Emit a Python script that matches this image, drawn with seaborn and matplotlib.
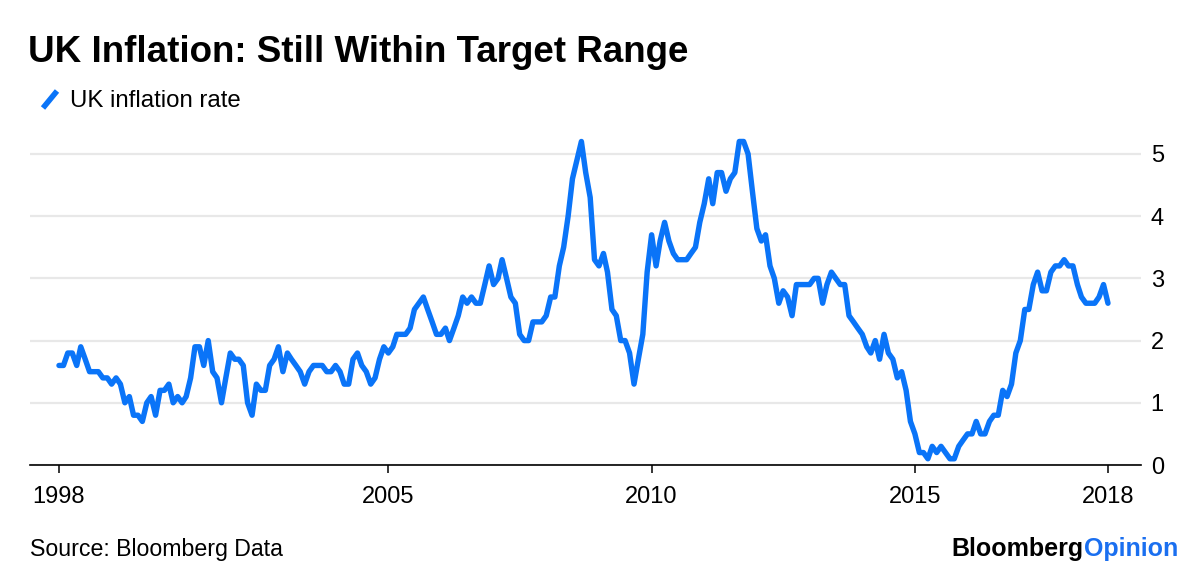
import matplotlib
matplotlib.use("Agg")
import matplotlib.pyplot as plt
from matplotlib.lines import Line2D
import numpy as np
import pandas as pd
import seaborn as sns

# monthly series, first point Oct 1998
START_MONTH = "1998-10-01"
inflation_rate = [
    1.6, 1.6, 1.8, 1.8, 1.6, 1.9, 1.7, 1.5, 1.5, 1.5,
    1.4, 1.4, 1.3, 1.4, 1.3, 1.0, 1.1, 0.8, 0.8, 0.7,
    1.0, 1.1, 0.8, 1.2, 1.2, 1.3, 1.0, 1.1, 1.0, 1.1,
    1.4, 1.9, 1.9, 1.6, 2.0, 1.5, 1.4, 1.0, 1.4, 1.8,
    1.7, 1.7, 1.6, 1.0, 0.8, 1.3, 1.2, 1.2, 1.6, 1.7,
    1.9, 1.5, 1.8, 1.7, 1.6, 1.5, 1.3, 1.5, 1.6, 1.6,
    1.6, 1.5, 1.5, 1.6, 1.5, 1.3, 1.3, 1.7, 1.8, 1.6,
    1.5, 1.3, 1.4, 1.7, 1.9, 1.8, 1.9, 2.1, 2.1, 2.1,
    2.2, 2.5, 2.6, 2.7, 2.5, 2.3, 2.1, 2.1, 2.2, 2.0,
    2.2, 2.4, 2.7, 2.6, 2.7, 2.6, 2.6, 2.9, 3.2, 2.9,
    3.0, 3.3, 3.0, 2.7, 2.6, 2.1, 2.0, 2.0, 2.3, 2.3,
    2.3, 2.4, 2.7, 2.7, 3.2, 3.5, 4.0, 4.6, 4.9, 5.2,
    4.7, 4.3, 3.3, 3.2, 3.4, 3.1, 2.5, 2.4, 2.0, 2.0,
    1.8, 1.3, 1.7, 2.1, 3.1, 3.7, 3.2, 3.6, 3.9, 3.6,
    3.4, 3.3, 3.3, 3.3, 3.4, 3.5, 3.9, 4.2, 4.6, 4.2,
    4.7, 4.7, 4.4, 4.6, 4.7, 5.2, 5.2, 5.0, 4.4, 3.8,
    3.6, 3.7, 3.2, 3.0, 2.6, 2.8, 2.7, 2.4, 2.9, 2.9,
    2.9, 2.9, 3.0, 3.0, 2.6, 2.9, 3.1, 3.0, 2.9, 2.9,
    2.4, 2.3, 2.2, 2.1, 1.9, 1.8, 2.0, 1.7, 2.1, 1.8,
    1.7, 1.4, 1.5, 1.2, 0.7, 0.5, 0.2, 0.2, 0.1, 0.3,
    0.2, 0.3, 0.2, 0.1, 0.1, 0.3, 0.4, 0.5, 0.5, 0.7,
    0.5, 0.5, 0.7, 0.8, 0.8, 1.2, 1.1, 1.3, 1.8, 2.0,
    2.5, 2.5, 2.9, 3.1, 2.8, 2.8, 3.1, 3.2, 3.2, 3.3,
    3.2, 3.2, 2.9, 2.7, 2.6, 2.6, 2.6, 2.7, 2.9, 2.6,
]

MID_TICKS = ["2005-01-01", "2010-01-01", "2015-01-01"]
X_LABELS = ["1998", "2005", "2010", "2015", "2018"]
Y_TICKS = [0, 1, 2, 3, 4, 5]

TITLE = "UK Inflation: Still Within Target Range"
SERIES = "UK inflation rate"
SOURCE = "Source: Bloomberg Data"

BLUE = "#0a74f8"
LOGO_BLUE = "#1a6ff0"

sns.set_theme(style="white")
plt.rcParams["font.family"] = ["Liberation Sans", "DejaVu Sans"]

months = pd.date_range(START_MONTH, periods=len(inflation_rate), freq="MS")
df = pd.DataFrame({"month": months, "rate": inflation_rate})

W, H = 1200, 574
fig = plt.figure(figsize=(W / 100, H / 100), dpi=100)
fig.patch.set_facecolor("white")

# axes box in pixel terms: x 30..1141, y 136..465
ax = fig.add_axes([30 / W, (H - 465) / H, (1141 - 30) / W, (465 - 136.5) / H])

sns.lineplot(data=df, x="month", y="rate", color=BLUE, linewidth=3.9,
             ax=ax, solid_joinstyle="round", solid_capstyle="round", zorder=3)

ax.set_xlim(months[0] - pd.Timedelta(days=201), months[-1] + pd.Timedelta(days=229))
ax.set_ylim(0, 5.28)

xticks = [months[0]] + [pd.Timestamp(d) for d in MID_TICKS] + [months[-1]]
ax.set_xticks(xticks)
ax.set_xticklabels(X_LABELS)
ax.set_yticks(Y_TICKS)
ax.set_yticklabels([str(v) for v in Y_TICKS])
ax.yaxis.tick_right()

ax.set_xlabel("")
ax.set_ylabel("")

for side in ["top", "left", "right"]:
    ax.spines[side].set_visible(False)
ax.spines["bottom"].set_color("black")
ax.spines["bottom"].set_linewidth(1.2)
ax.spines["bottom"].set_zorder(4)

ax.grid(axis="y", color="#e8e8e8", linewidth=1.6)
ax.grid(axis="x", visible=False)
ax.set_axisbelow(True)

ax.tick_params(axis="x", direction="out", length=6, width=1.1, color="black",
               pad=9, labelsize=17, labelcolor="black", bottom=True)
ax.tick_params(axis="y", length=0, pad=7, labelsize=17, labelcolor="black")

# header
fig.text(28 / W, 1 - 62 / H, TITLE, fontsize=26.5, fontweight="bold",
         va="baseline", ha="left", color="black")

fig.add_artist(Line2D([43 / W, 57 / W], [1 - 108 / H, 1 - 91 / H], color=BLUE,
                      linewidth=4, solid_capstyle="butt"))
fig.text(70 / W, 1 - 107 / H, SERIES, fontsize=17.3, va="baseline", ha="left",
         color="black")

# footer
fig.text(30 / W, 1 - 556 / H, SOURCE, fontsize=16.7, va="baseline", ha="left",
         color="black")

renderer = fig.canvas.get_renderer()
opinion = fig.text(1178 / W, 1 - 556 / H, "Opinion", fontsize=18,
                   fontweight="bold", color=LOGO_BLUE, va="baseline", ha="right")
bb = opinion.get_window_extent(renderer=renderer)
fig.text(bb.x0 / W, 1 - 556 / H, "Bloomberg", fontsize=18, fontweight="bold",
         color="black", va="baseline", ha="right")

fig.savefig("out.png", dpi=100, facecolor="white")
